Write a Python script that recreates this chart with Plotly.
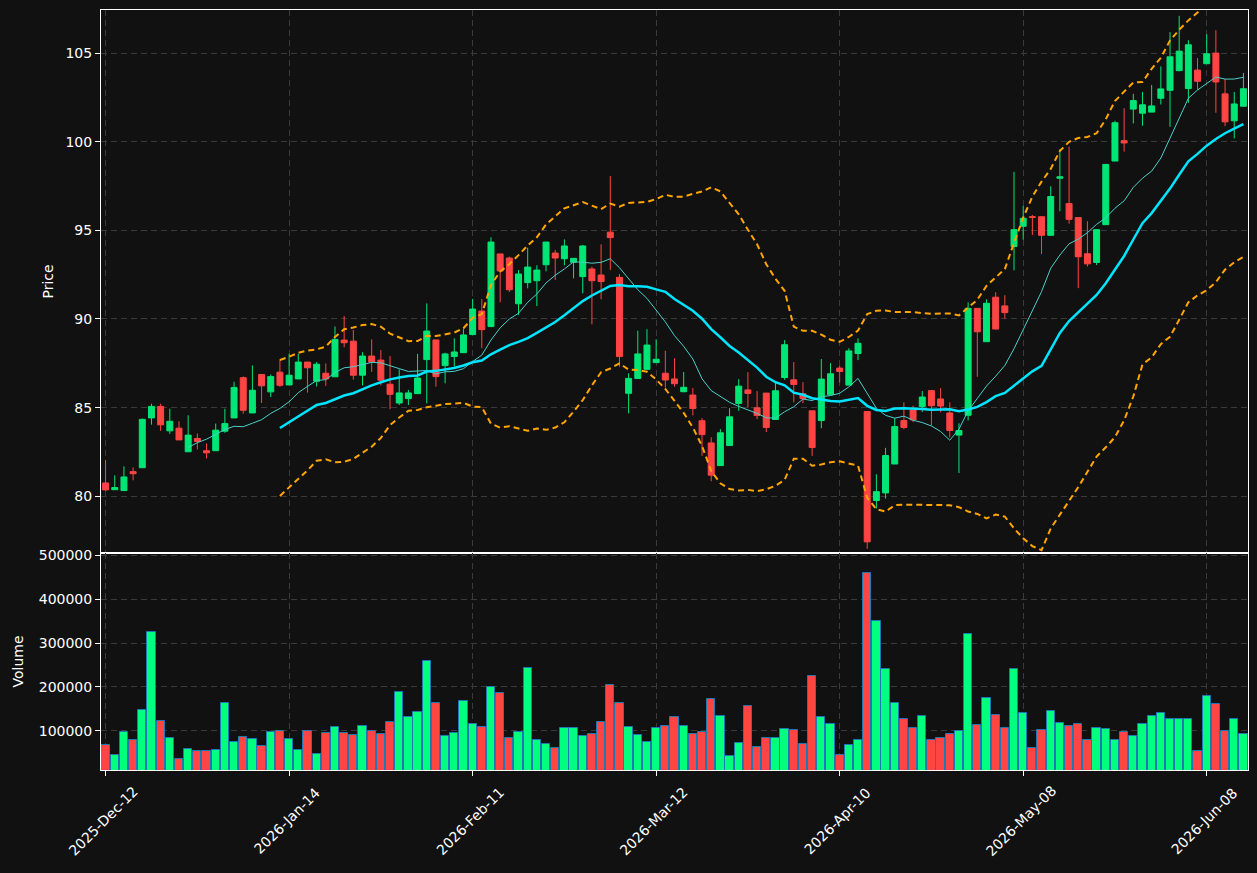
import plotly.graph_objects as go
import pandas as pd

# ---------------- data ----------------
tick_idx = [0, 20, 40, 60, 80, 100, 120]
tick_labels = ["2025-Dec-12", "2026-Jan-14", "2026-Feb-11", "2026-Mar-12",
               "2026-Apr-10", "2026-May-08", "2026-Jun-08"]

opens = [80.75, 80.37, 80.32, 81.39, 81.61, 84.42, 85.07, 83.69, 83.84, 82.51,
         83.26, 82.57, 82.57, 83.67, 84.42, 86.69, 84.70, 86.87, 85.89, 87.00,
         86.28, 86.62, 87.57, 86.49, 86.94, 86.74, 88.81, 88.75, 86.83, 87.91,
         87.68, 86.32, 85.26, 85.51, 85.79, 87.71, 88.82, 87.37, 87.88, 88.10,
         89.12, 90.45, 89.57, 93.67, 93.44, 90.86, 92.05, 92.16, 93.06, 93.72,
         93.40, 93.20, 92.39, 92.82, 92.48, 94.90, 92.35, 85.81, 86.64, 87.16,
         87.54, 86.94, 86.62, 85.90, 85.71, 84.26, 83.01, 81.73, 82.86, 85.24,
         86.00, 84.99, 85.82, 84.33, 86.70, 86.57, 85.78, 84.82, 84.27, 85.73,
         87.23, 86.27, 88.05, 84.78, 79.76, 80.19, 81.82, 84.27, 84.87, 85.06,
         85.96, 85.49, 84.70, 83.45, 84.57, 90.60, 88.72, 91.23, 90.74, 94.09,
         95.23, 95.77, 95.77, 94.72, 97.94, 96.51, 95.72, 93.68, 93.19, 95.32,
         98.91, 100.06, 101.84, 101.61, 101.67, 102.45, 102.90, 104.01, 103.00, 104.04,
         104.40, 105.00, 102.70, 101.18, 102.00]

highs = [82.04, 81.18, 81.69, 81.63, 84.38, 85.22, 85.22, 84.94, 84.23, 84.57,
         83.54, 82.98, 84.10, 84.94, 86.46, 86.76, 87.38, 86.87, 86.87, 87.72,
         88.04, 88.04, 87.57, 87.57, 87.49, 89.58, 90.17, 89.38, 88.13, 88.85,
         88.25, 87.91, 87.16, 86.00, 88.03, 90.88, 88.82, 88.10, 88.91, 89.47,
         91.13, 91.13, 94.61, 93.67, 93.52, 92.76, 94.02, 93.03, 94.34, 93.89,
         94.49, 93.42, 94.17, 92.95, 94.21, 98.06, 92.54, 86.94, 89.34, 89.42,
         88.85, 88.21, 87.78, 87.01, 86.10, 84.41, 83.33, 83.79, 84.97, 86.61,
         87.00, 85.93, 85.82, 86.42, 88.81, 87.57, 86.44, 84.82, 87.74, 87.51,
         87.36, 88.35, 88.91, 84.78, 81.24, 82.73, 84.42, 85.30, 85.11, 85.94,
         85.96, 86.10, 85.30, 84.12, 90.94, 90.60, 91.11, 91.51, 91.34, 98.30,
         96.38, 95.87, 95.77, 97.49, 99.57, 99.72, 95.72, 95.51, 95.04, 98.72,
         101.18, 101.89, 102.70, 102.81, 103.20, 104.25, 106.18, 107.10, 105.73, 104.72,
         106.07, 106.29, 103.54, 102.81, 103.88]

lows = [80.30, 80.37, 80.32, 80.90, 81.61, 84.04, 83.69, 83.52, 83.18, 82.51,
        82.64, 82.13, 82.57, 83.58, 84.42, 84.66, 84.70, 85.26, 85.60, 86.17,
        86.28, 86.62, 85.85, 86.19, 86.23, 86.74, 88.40, 86.58, 86.25, 87.02,
        86.26, 84.91, 85.15, 85.15, 85.79, 85.24, 86.18, 86.37, 87.31, 88.10,
        89.12, 88.35, 89.57, 90.94, 91.52, 90.23, 91.73, 90.73, 92.69, 92.20,
        93.03, 92.29, 91.45, 89.70, 91.11, 92.76, 87.31, 84.68, 86.64, 87.16,
        87.54, 86.13, 86.18, 85.86, 84.56, 82.28, 80.85, 81.73, 82.86, 84.82,
        85.00, 84.35, 83.62, 84.33, 86.57, 85.29, 85.25, 82.28, 83.84, 85.73,
        86.42, 86.27, 87.68, 77.04, 79.31, 79.87, 81.82, 83.78, 84.18, 84.76,
        83.99, 84.74, 83.33, 81.31, 84.28, 86.74, 88.72, 89.43, 90.02, 92.74,
        94.47, 94.74, 93.66, 94.72, 96.08, 95.38, 91.74, 92.96, 93.04, 95.32,
        98.91, 99.44, 101.03, 100.90, 101.67, 102.10, 100.84, 103.97, 102.19, 102.94,
        104.40, 101.63, 100.88, 100.19, 102.00]

closes = [80.36, 80.49, 81.09, 81.27, 84.34, 85.07, 84.03, 84.23, 83.18, 83.45,
          83.09, 82.45, 83.73, 84.10, 86.14, 84.85, 85.98, 86.23, 86.75, 86.26,
          86.83, 87.57, 87.25, 87.45, 86.62, 88.85, 88.66, 86.83, 87.91, 87.57,
          86.55, 85.75, 85.83, 85.83, 86.67, 89.32, 86.75, 88.03, 88.14, 89.10,
          90.56, 89.40, 94.34, 92.71, 91.65, 92.54, 92.93, 92.76, 94.34, 93.44,
          94.12, 93.42, 94.12, 92.16, 92.11, 94.59, 87.88, 86.65, 88.03, 88.53,
          87.73, 86.56, 86.35, 86.15, 84.95, 83.48, 81.19, 83.58, 84.48, 86.21,
          85.80, 84.56, 83.88, 85.95, 88.55, 86.31, 85.52, 82.75, 86.61, 86.91,
          87.04, 88.20, 88.63, 77.43, 80.26, 82.30, 83.93, 83.88, 84.31, 85.60,
          85.11, 85.09, 83.71, 83.71, 90.60, 89.28, 90.89, 89.43, 90.36, 95.04,
          95.68, 95.74, 94.72, 96.91, 98.02, 95.62, 93.51, 93.11, 95.04, 98.72,
          101.07, 99.93, 102.32, 102.08, 102.02, 102.98, 104.79, 105.11, 105.47, 103.41,
          104.96, 103.37, 101.12, 102.13, 102.99]

volumes = [68200, 45500, 97700, 79500, 147700, 325000, 122700, 84100, 36400, 59100,
           54500, 54500, 56800, 163600, 75000, 86400, 81800, 65900, 97700, 100000,
           81800, 56800, 100000, 47700, 95500, 109100, 95500, 90900, 111400, 100000,
           93200, 120500, 188600, 131800, 143200, 259100, 163600, 88600, 95500, 168200,
           115900, 109100, 200000, 186400, 84100, 97700, 243200, 79500, 70500, 61400,
           106800, 106800, 88600, 93200, 120500, 204500, 163600, 109100, 90900, 75000,
           106800, 111400, 131800, 111400, 93200, 97700, 172700, 134100, 42400, 72700,
           156800, 63600, 84100, 84100, 104500, 102300, 70500, 225000, 131800, 115900,
           45500, 68200, 79500, 459000, 350000, 240900, 163600, 127300, 106800, 134100,
           79500, 84100, 93200, 100000, 320500, 113600, 175000, 136400, 106800, 240900,
           140900, 61400, 102300, 145500, 118200, 111400, 115900, 79500, 106800, 104500,
           79500, 97700, 88600, 115900, 134100, 140900, 127300, 127300, 127300, 54500,
           179500, 161400, 100000, 127300, 93200]

# ---------------- derived indicators ----------------
n = len(closes)
x = list(range(n))
cs = pd.Series(closes)
ma10 = cs.rolling(10).mean()
ma20 = cs.rolling(20).mean()
sd20 = cs.rolling(20).std(ddof=0)
bb_up = ma20 + 2 * sd20
bb_lo = ma20 - 2 * sd20

UP = "#00e676"
DN = "#ff4444"
VUP = "#00ff7f"
VDN = "#ff4444"
BG = "#111111"
GRID = "#3a3a3a"
FONT = dict(family="DejaVu Sans", size=14, color="#ffffff")

vol_colors = [VUP if c >= o else VDN for o, c in zip(opens, closes)]

fig = go.Figure()
fig.add_trace(go.Candlestick(
    x=x, open=opens, high=highs, low=lows, close=closes,
    increasing=dict(line=dict(color=UP, width=1), fillcolor=UP),
    decreasing=dict(line=dict(color=DN, width=1), fillcolor=DN),
    whiskerwidth=0, xaxis="x", yaxis="y", showlegend=False, hoverinfo="skip"))

fig.add_trace(go.Scatter(x=x, y=ma10, mode="lines", line=dict(color="#48d1cc", width=1),
                         xaxis="x", yaxis="y", showlegend=False, hoverinfo="skip"))
fig.add_trace(go.Scatter(x=x, y=ma20, mode="lines", line=dict(color="#00e5ff", width=2.5),
                         xaxis="x", yaxis="y", showlegend=False, hoverinfo="skip"))
for band in (bb_up, bb_lo):
    fig.add_trace(go.Scatter(x=x, y=band, mode="lines",
                             line=dict(color="#ffa500", width=2, dash="6px,4px"),
                             xaxis="x", yaxis="y", showlegend=False, hoverinfo="skip"))

fig.add_trace(go.Bar(x=x, y=volumes, marker=dict(color=vol_colors, line=dict(color="#1f77b4", width=1)),
                     width=0.9, xaxis="x2", yaxis="y2", showlegend=False, hoverinfo="skip"))

vmin = 0.3 * min(volumes)
vmax = 1.1 * max(volumes)

split = 217 / 760
common_axis = dict(showline=True, mirror=True, linecolor="#ffffff", linewidth=1,
                   showgrid=True, gridcolor=GRID, gridwidth=1, griddash="6px,4px",
                   zeroline=False, tickfont=FONT, tickcolor="#ffffff", automargin=False)

fig.update_layout(
    width=1257, height=873,
    margin=dict(l=101, r=9, t=10, b=103, autoexpand=False),
    paper_bgcolor=BG, plot_bgcolor=BG,
    showlegend=False,
    boxgap=0.35, boxgroupgap=0,
    bargap=0,
    font=FONT,
    xaxis=dict(domain=[0, 1], range=[-0.5, 124.5], anchor="y", tickvals=tick_idx,
               showticklabels=False, ticks="", rangeslider=dict(visible=False), **common_axis),
    yaxis=dict(domain=[split, 1], range=[76.8, 107.43], anchor="x",
               tickvals=[80, 85, 90, 95, 100, 105], ticks="outside", ticklen=5, **common_axis),
    xaxis2=dict(domain=[0, 1], range=[-0.5, 124.5], anchor="y2", matches="x", tickvals=tick_idx,
                showticklabels=False, ticks="outside", ticklen=5, **common_axis),
    yaxis2=dict(domain=[0, split], range=[vmin, vmax], anchor="x2",
                tickvals=[100000, 200000, 300000, 400000, 500000], tickformat="d",
                ticks="outside", ticklen=5, **common_axis),
)

annotations = []
for ti, tl in zip(tick_idx, tick_labels):
    annotations.append(dict(x=ti - 0.25, xref="x2", y=-51 / 760, yref="paper", text=tl,
                            textangle=-45, showarrow=False, xanchor="center", yanchor="middle",
                            font=FONT))
annotations.append(dict(x=(47 - 101) / 1147, xref="paper", y=(770 - 281.5) / 760, yref="paper",
                        text="Price", textangle=-90, showarrow=False, xanchor="center",
                        yanchor="middle", font=FONT))
annotations.append(dict(x=(17 - 101) / 1147, xref="paper", y=(770 - 661.5) / 760, yref="paper",
                        text="Volume", textangle=-90, showarrow=False, xanchor="center",
                        yanchor="middle", font=FONT))
fig.update_layout(annotations=annotations)

fig.write_html("out.html")
